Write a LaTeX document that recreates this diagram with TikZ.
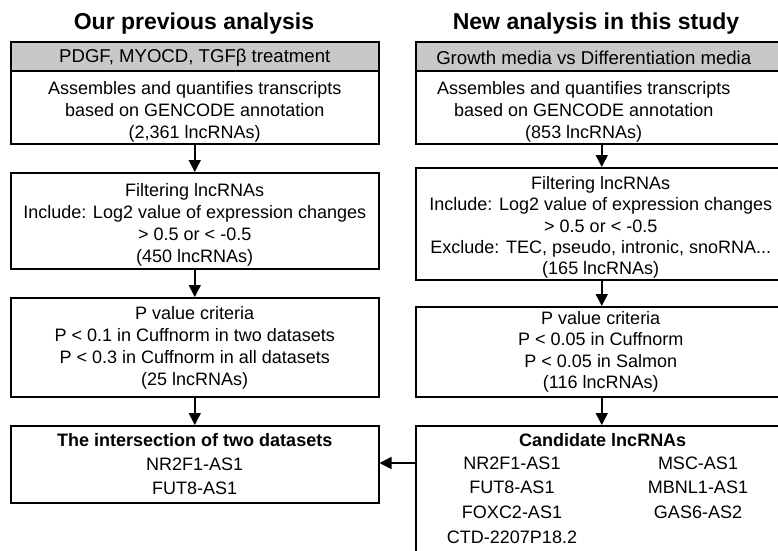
\documentclass[tikz,border=0pt]{standalone}
\usepackage{fontspec}
\setmainfont{Liberation Sans}
\usetikzlibrary{positioning, arrows.meta, calc}
\definecolor{hdrgray}{HTML}{C8C8C8}

\begin{document}
\begin{tikzpicture}[
  x=1pt, y=-1pt,
  every node/.style={font=\fontsize{18}{22}\selectfont, inner sep=0pt},
  box/.style={draw, line width=1.5pt, rectangle, anchor=north west},
  hdr/.style={box, fill=hdrgray},
  hdrtxt/.style={font=\fontsize{18.6}{22}\selectfont},
  txt/.style={align=center, anchor=north},
  ttl/.style={font=\fontsize{23}{27}\selectfont\bfseries},
  flow/.style={-{Triangle[length=12pt, width=12pt]}, line width=1.5pt},
]
  \useasboundingbox (0,0) rectangle (778,550);
  \clip (0,0) rectangle (778,550);

  \node[ttl] (ltitle) at (194,24) {Our previous analysis};
  \node[ttl] (rtitle) at (596,24) {New analysis in this study};

  % previous analysis
  \node[hdr, minimum width=368pt, minimum height=29pt] (lh) at (10,41) {};
  \node[hdrtxt] (lht) at ($(lh.center)+(0,1.5)$) {PDGF, MYOCD, TGFβ treatment};
  \node[box, minimum width=368pt, minimum height=73pt] (l1) at (10,70) {};
  \node[txt] (l1t) at ($(l1.north)+(0,11)$)
    {Assembles and quantifies transcripts\\based on GENCODE annotation\\(2,361 lncRNAs)};
  \node[box, minimum width=368pt, minimum height=96pt] (l2) at (10,172) {};
  \node[txt] (l2t) at ($(l2.north)+(0,11.25)$)
    {Filtering lncRNAs\\Include: Log2 value of expression changes\\> 0.5 or < -0.5\\(450 lncRNAs)};
  \node[box, minimum width=368pt, minimum height=99pt] (l3) at (10,297) {};
  \node[txt] (l3t) at ($(l3.north)+(0,9.25)$)
    {P value criteria\\P < 0.1 in Cuffnorm in two datasets\\P < 0.3 in Cuffnorm in all datasets\\(25 lncRNAs)};
  \node[box, minimum width=368pt, minimum height=77pt] (l4) at (10,425) {};
  \node[txt, font=\fontsize{18}{24}\selectfont] (l4t) at ($(l4.north)+(0,8.25)$)
    {\textbf{The intersection of two datasets}\\NR2F1-AS1\\FUT8-AS1};

  % new analysis
  \node[hdr, minimum width=372pt, minimum height=29pt] (rh) at (415,41) {};
  \node[hdrtxt] (rht) at ($(rh.center)+(-8,1.5)$) {Growth media vs Differentiation media};
  \node[box, minimum width=372pt, minimum height=73pt] (r1) at (415,70) {};
  \node[txt] (r1t) at ($(r1.north)+(-18,11)$)
    {Assembles and quantifies transcripts\\based on GENCODE annotation\\(853 lncRNAs)};
  \node[box, minimum width=372pt, minimum height=112pt] (r2) at (415,167) {};
  \node[txt, font=\fontsize{18}{21.25}\selectfont] (r2t) at ($(r2.north)+(-1,9.25)$)
    {Filtering lncRNAs\\Include: Log2 value of expression changes\\> 0.5 or < -0.5\\Exclude: TEC, pseudo, intronic, snoRNA...\\(165 lncRNAs)};
  \node[box, minimum width=372pt, minimum height=90pt] (r3) at (415,306) {};
  \node[txt, font=\fontsize{18}{21.3}\selectfont] (r3t) at ($(r3.north)+(-1,5.25)$)
    {P value criteria\\P < 0.05 in Cuffnorm\\P < 0.05 in Salmon\\(116 lncRNAs)};
  \node[box, minimum width=372pt, minimum height=200pt] (r4) at (415,425) {};
  \node[txt, font=\fontsize{18}{22}\selectfont\bfseries] (r4t) at ($(r4.north)+(1,8.25)$) {Candidate lncRNAs};
  \node[txt, font=\fontsize{18}{24.7}\selectfont] (cand1) at ($(r4.north west)+(97,31.25)$)
    {NR2F1-AS1\\FUT8-AS1\\FOXC2-AS1\\CTD-2207P18.2};
  \node[txt, font=\fontsize{18}{24.7}\selectfont] (cand2) at ($(r4.north west)+(283,31.25)$)
    {MSC-AS1\\MBNL1-AS1\\GAS6-AS2};

  \draw[flow] (l1) -- (l2);
  \draw[flow] (l2) -- (l3);
  \draw[flow] (l3) -- (l4);
  \draw[flow] (r1) -- (r2);
  \draw[flow] (r2) -- (r3);
  \draw[flow] (r3) -- (r4);
  \coordinate (tap) at ($(r4.north west)+(0,38)$);
  \draw[flow] (tap) -- (tap -| l4.east);
\end{tikzpicture}
\end{document}
